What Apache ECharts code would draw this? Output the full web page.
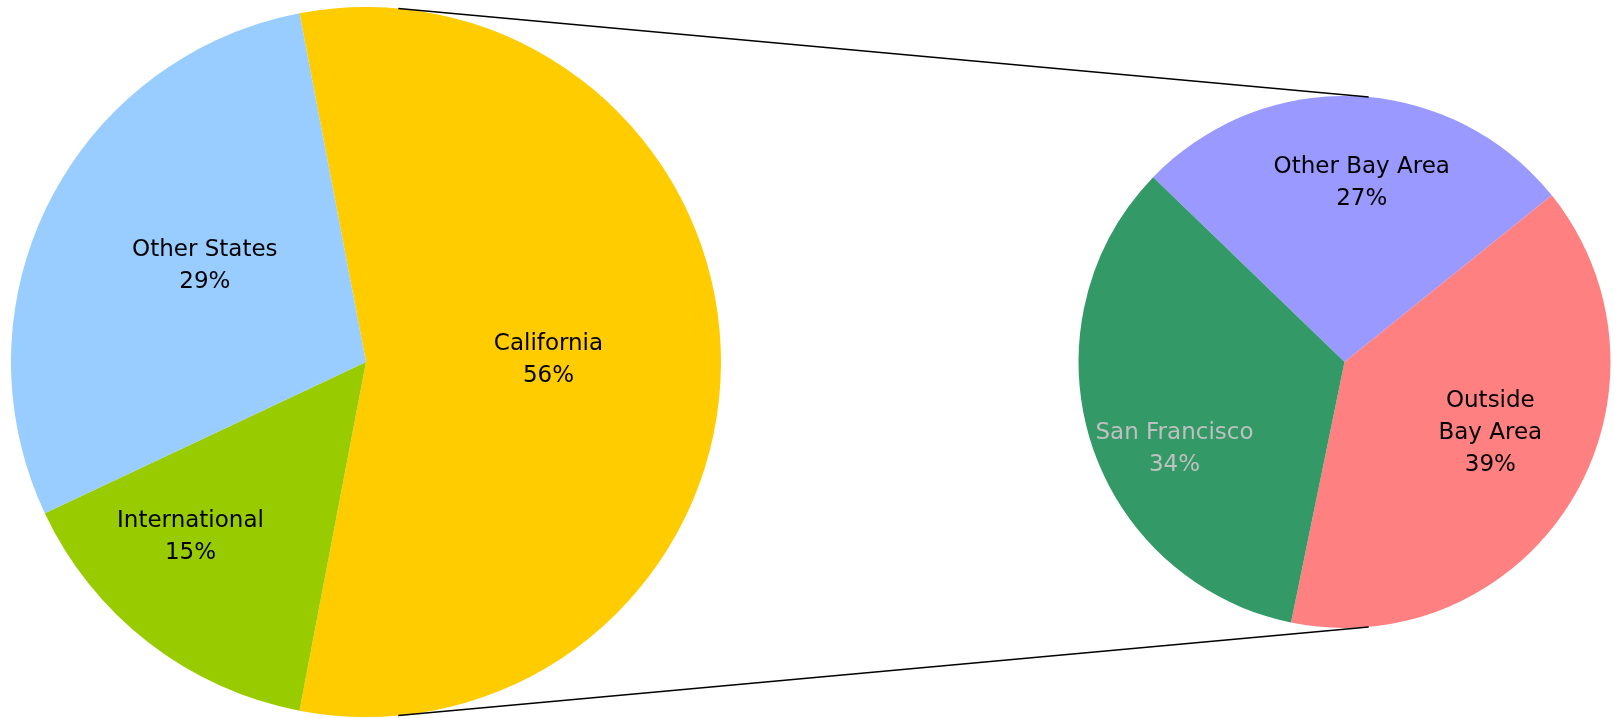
<!DOCTYPE html>
<html>
<head>
<meta charset="utf-8">
<script src="https://cdn.jsdelivr.net/npm/echarts@6/dist/echarts.min.js"></script>
<style>
  html, body { margin: 0; padding: 0; background: #fff; }
  #main { width: 1614px; height: 718px; }
</style>
</head>
<body>
<div id="main"></div>
<script>
// main pie: share of students by origin
const mainNames = ['California', 'International', 'Other States'];
const mainValues = [56, 15, 29];
const mainColors = ['#FFCC00', '#99CC00', '#99CCFF'];

// secondary pie: breakdown of California
const subNames = ['Other Bay Area', 'Outside\nBay Area', 'San Francisco'];
const subValues = [27, 39, 34];
const subColors = ['#9999FF', '#FF8080', '#339966'];
const subLabelColors = ['#000', '#000', '#C0C0C0'];

// geometry of the two pies (pixels); labelR = fraction of radius, labelTurn = degrees off the mid angle
const mainPie = { cx: 366, cy: 362, r: 355, start: 100.8, labelR: [0.514, 0.698, 0.529], labelTurn: [0.6, -7.3, -3.9] };
const subPie = { cx: 1344.5, cy: 362, r: 266, start: 136, labelR: [0.676, 0.61, 0.718], labelTurn: [-2.9, 5.4, 9.9] };

const font = { fontFamily: 'DejaVu Sans', fontSize: 23, lineHeight: 32 };

/**
 * label position for a slice, placed at a fraction of the radius near its mid angle
 */
const labelAt = (pie, values) => (params) => {
  const i = params.dataIndex;
  const total = values.reduce((a, b) => a + b, 0);
  let before = 0;
  for (let k = 0; k < i; k++) before += values[k];
  const mid = pie.start - (before + values[i] / 2) / total * 360 + pie.labelTurn[i];
  const a = mid * Math.PI / 180;
  const f = pie.labelR[i];
  return {
    x: pie.cx + f * pie.r * Math.cos(a),
    y: pie.cy - f * pie.r * Math.sin(a),
    align: 'center',
    verticalAlign: 'middle'
  };
};

// outer common tangent of the two circles (connector lines)
const tangent = (sign) => {
  const d = subPie.cx - mainPie.cx;
  const nx = (mainPie.r - subPie.r) / d;
  const ny = sign * Math.sqrt(1 - nx * nx);
  return {
    x1: mainPie.cx + mainPie.r * nx, y1: mainPie.cy + mainPie.r * ny,
    x2: subPie.cx + subPie.r * nx, y2: subPie.cy + subPie.r * ny
  };
};

const pieSeries = (pie, names, values, colors, labelColors) => ({
  type: 'pie',
  center: [pie.cx, pie.cy],
  radius: pie.r,
  startAngle: pie.start,
  clockwise: true,
  animation: false,
  silent: true,
  avoidLabelOverlap: false,
  data: names.map((n, i) => ({
    name: n,
    value: values[i],
    itemStyle: { color: colors[i] },
    label: { color: labelColors ? labelColors[i] : '#000' }
  })),
  itemStyle: { borderWidth: 0 },
  label: {
    show: true,
    position: 'inside',
    formatter: (p) => p.name + '\n' + Math.round(p.percent) + '%',
    ...font
  },
  labelLine: { show: false },
  labelLayout: labelAt(pie, values)
});

let chart = echarts.init(document.getElementById('main'));
chart.setOption({
  backgroundColor: '#fff',
  animation: false,
  graphic: [tangent(-1), tangent(1)].map((s) => ({
    type: 'line',
    shape: s,
    style: { stroke: '#000', lineWidth: 1.5 },
    z: 10
  })),
  series: [
    pieSeries(mainPie, mainNames, mainValues, mainColors),
    pieSeries(subPie, subNames, subValues, subColors, subLabelColors)
  ]
});
</script>
</body>
</html>
